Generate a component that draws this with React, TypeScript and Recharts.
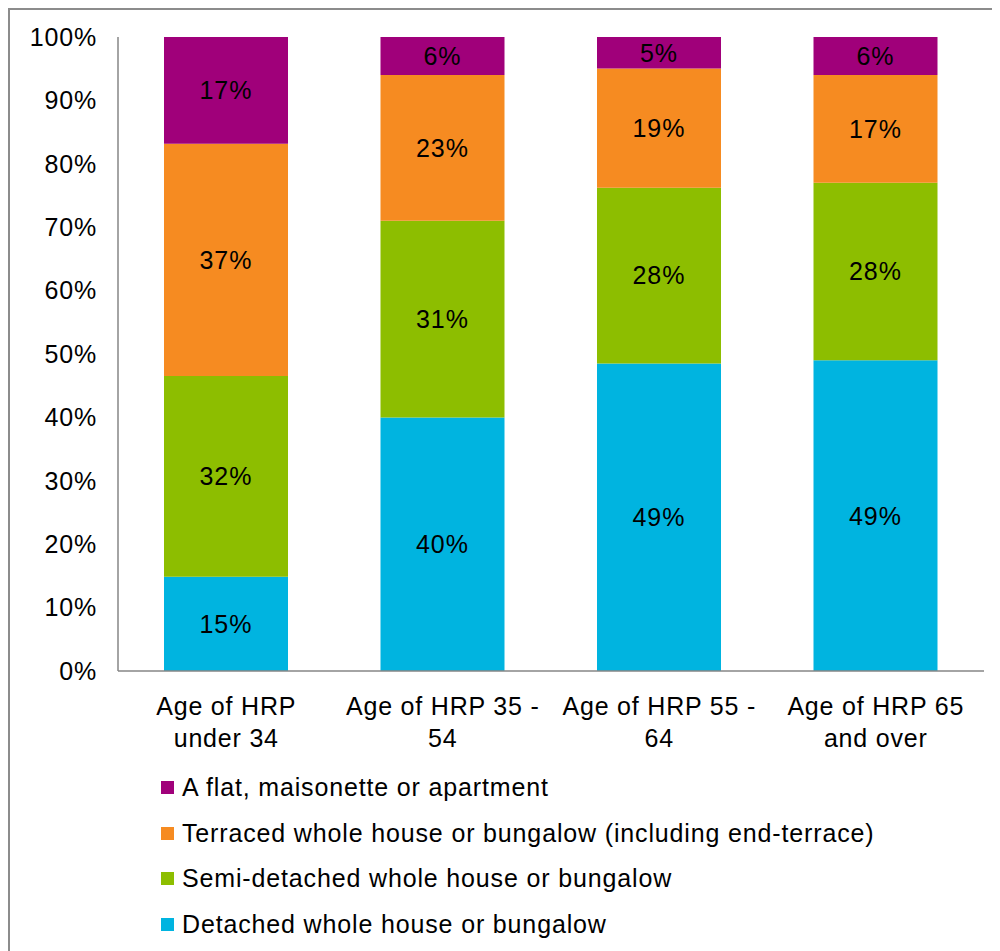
import { BarChart, Bar, XAxis, YAxis, LabelList } from 'recharts';

// Age-of-HRP bands along the x axis, each label split over two lines
const categories = ['under34', '35-54', '55-64', '65plus'];
const categoryLines: string[][] = [
  ['Age of HRP', 'under 34'],
  ['Age of HRP 35 -', '54'],
  ['Age of HRP 55 -', '64'],
  ['Age of HRP 65', 'and over'],
];

// share of households (%) by dwelling type
const detached = [15, 40, 49, 49];
const semiDetached = [32, 31, 28, 28];
const terraced = [37, 23, 19, 17];
const flat = [17, 6, 5, 6];

const yTicks = [0, 0.1, 0.2, 0.3, 0.4, 0.5, 0.6, 0.7, 0.8, 0.9, 1];

const series = [
  { key: 'detached', name: 'Detached whole house or bungalow', color: '#00B4E0' },
  { key: 'semi', name: 'Semi-detached whole house or bungalow', color: '#8DBE00' },
  { key: 'terraced', name: 'Terraced whole house or bungalow (including end-terrace)', color: '#F68B21' },
  { key: 'flat', name: 'A flat, maisonette or apartment', color: '#A0007A' },
];

const data = categories.map((c, i) => ({
  cat: c,
  detached: detached[i],
  semi: semiDetached[i],
  terraced: terraced[i],
  flat: flat[i],
}));

const FONT = 'Liberation Sans, Arial, sans-serif';

const CategoryTick = (props: any) => {
  const { x, y, index } = props;
  const lines = categoryLines[index] || [];
  return (
    <text x={x} y={y} textAnchor="middle" fontSize={25} fontFamily={FONT} fill="#000" letterSpacing={0.8}>
      {lines.map((l, i) => (
        <tspan key={i} x={x} dy={i === 0 ? 36 : 32}>
          {l}
        </tspan>
      ))}
    </text>
  );
};

const App = () => {
  return (
    <div
      style={{
        position: 'relative',
        width: 1010,
        height: 960,
        borderLeft: '2px solid #8c8c8c',
        borderTop: '2px solid #8c8c8c',
        fontFamily: FONT,
      }}
    >
      <BarChart
        width={1000}
        height={761}
        data={data}
        stackOffset="expand"
        barSize={124}
        margin={{ top: 27, right: 26, bottom: 0, left: 1 }}
      >
        <YAxis
          type="number"
          domain={[0, 1]}
          ticks={yTicks}
          width={107}
          tickLine={false}
          tickSize={8}
          tickMargin={13}
          axisLine={{ stroke: '#868686', strokeWidth: 1.5 }}
          tickFormatter={(v: number) => `${Math.round(v * 100)}%`}
          tick={{ fill: '#000', fontSize: 25, fontFamily: FONT, letterSpacing: 0.8 }}
          interval={0}
        />
        <XAxis
          dataKey="cat"
          tickLine={false}
          axisLine={{ stroke: '#868686', strokeWidth: 1.5 }}
          tick={<CategoryTick />}
          height={100}
          interval={0}
        />
        {series.map((s) => (
          <Bar key={s.key} dataKey={s.key} name={s.name} stackId="a" fill={s.color} isAnimationActive={false}>
            <LabelList
              dataKey={s.key}
              position="center"
              formatter={(v: any) => `${v}%`}
              fill="#000"
              fontSize={25}
              fontFamily={FONT}
              letterSpacing={1}
            />
          </Bar>
        ))}
      </BarChart>
      <div style={{ position: 'absolute', left: 151, top: 755 }}>
        {[...series].reverse().map((s) => (
          <div key={s.key} style={{ display: 'flex', alignItems: 'center', height: 45.5 }}>
            <span style={{ width: 13, height: 13, background: s.color, display: 'inline-block', marginRight: 8 }} />
            <span style={{ fontSize: 25, color: '#000', whiteSpace: 'nowrap', letterSpacing: 0.85 }}>{s.name}</span>
          </div>
        ))}
      </div>
    </div>
  );
};

export default App;
